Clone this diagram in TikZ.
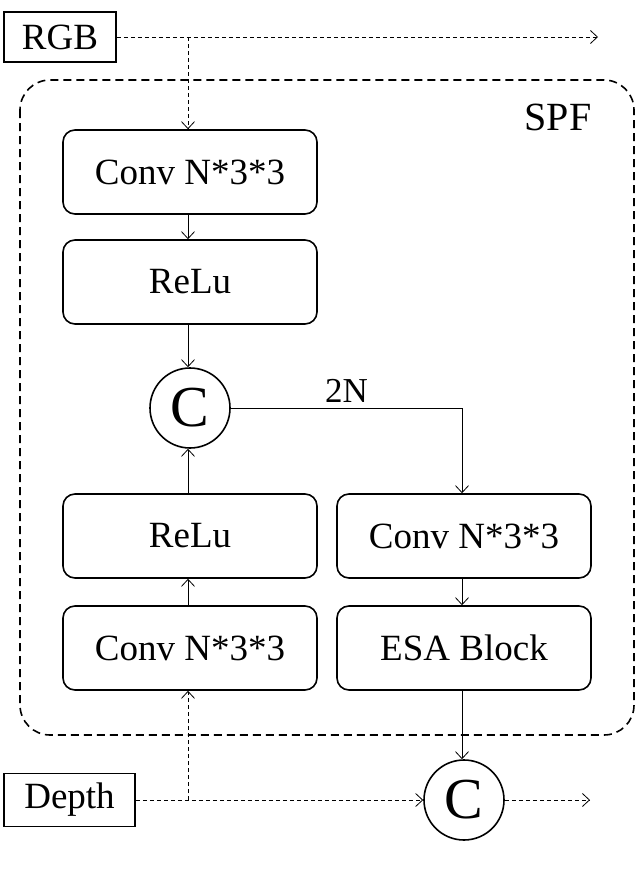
\documentclass[tikz,border=0pt]{standalone}
\usepackage{fontspec}
\setmainfont{Liberation Serif}
\usetikzlibrary{arrows.meta}
\begin{document}
\begin{tikzpicture}[x=1pt,y=-1pt,
  box/.style={draw,line width=1.6pt,rounded corners=12pt,minimum width=254pt,minimum height=84pt,inner sep=0pt,font=\fontsize{37}{42}\selectfont},
  io/.style={draw,line width=1.6pt,inner sep=0pt,font=\fontsize{37}{42}\selectfont},
  cat/.style={draw,circle,line width=1.6pt,minimum size=80pt,inner sep=0pt,font=\fontsize{58}{64}\selectfont},
  arr/.style={line width=0.8pt,-{Straight Barb[length=7pt,width=13pt,line width=0.8pt]}},
  darr/.style={arr,dash pattern=on 4pt off 3pt}]
\useasboundingbox (0,0) rectangle (635,870);
\node[io,minimum width=112pt,minimum height=50pt] (rgb) at (60,37) {RGB};
\node[io,minimum width=131pt,minimum height=53pt] (depth) at (69.5,800) {Depth};
\draw[line width=1.6pt,dash pattern=on 8pt off 5pt,rounded corners=30pt] (20,80) rectangle (634,735);
\node[font=\fontsize{40}{46}\selectfont] (spf) at (558,117) {SPF};
\node[box] (conv1) at (190,172) {Conv N*3*3};
\node[box] (relu1) at (190,282) {ReLu};
\node[cat] (c1) at (190,408) {C};
\node[box] (relu2) at (190,536) {ReLu};
\node[box] (conv2) at (190,648) {Conv N*3*3};
\node[box] (conv3) at (464,536) {Conv N*3*3};
\node[box] (esa) at (464,648) {ESA Block};
\node[cat] (c2) at (464,800) {C};
\coordinate (rgbout) at (598,37);
\coordinate (out) at (590,800);
\coordinate (rgbsplit) at (188,37);
\coordinate (depsplit) at (188,800);
\draw[darr] (rgb.east) -- (rgbout);
\draw[darr] (rgbsplit) -- (conv1.north -| rgbsplit);
\draw[arr] (conv1.south -| rgbsplit) -- (relu1.north -| rgbsplit);
\draw[arr] (relu1.south -| rgbsplit) -- (c1.north -| rgbsplit);
\draw[arr] (relu2.north -| rgbsplit) -- (c1.south -| rgbsplit);
\draw[arr] (conv2.north -| rgbsplit) -- (relu2.south -| rgbsplit);
\draw[arr] (c1.east) -- (462,408) node[pos=0.5,above=2pt,font=\fontsize{35}{40}\selectfont] {2N} -- (conv3.north -| 462,0);
\draw[arr] (conv3.south -| 462,0) -- (esa.north -| 462,0);
\draw[arr] (esa.south -| 462,0) -- (c2.north -| 462,0);
\draw[darr] (depth.east) -- (c2.west);
\draw[darr] (depsplit) -- (conv2.south -| depsplit);
\draw[darr] (c2.east) -- (out);
\end{tikzpicture}
\end{document}
